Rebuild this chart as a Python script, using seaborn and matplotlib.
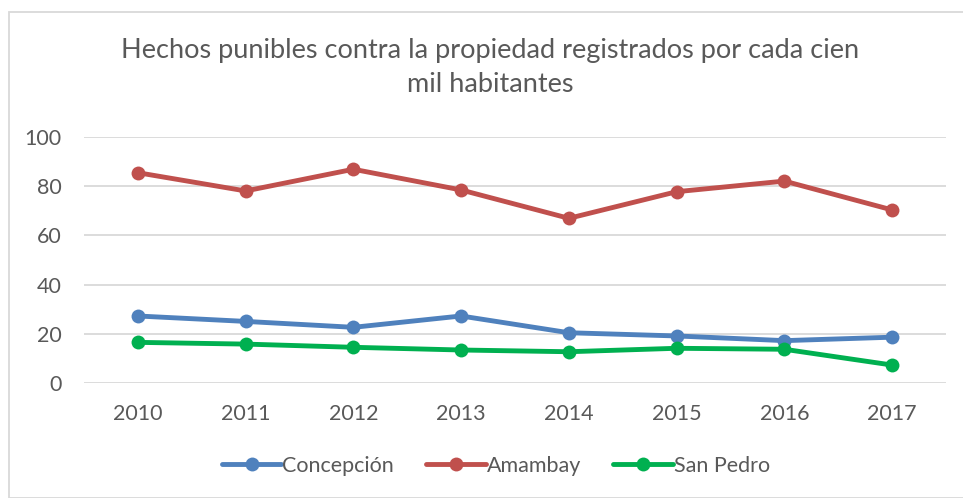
import matplotlib
matplotlib.use("Agg")
import matplotlib.pyplot as plt
import seaborn as sns
import pandas as pd
from matplotlib.patches import Rectangle

years = [2010, 2011, 2012, 2013, 2014, 2015, 2016, 2017]
concepcion = [27.3, 25.1, 22.7, 27.3, 20.5, 19.2, 17.3, 18.7]
amambay = [85.4, 78.0, 86.8, 78.4, 66.9, 77.7, 82.0, 70.3]
san_pedro = [16.6, 15.9, 14.6, 13.5, 12.8, 14.2, 13.8, 7.4]
series_names = ["Concepción", "Amambay", "San Pedro"]
colors = ["#4F81BD", "#C0504D", "#00B050"]
title = "Hechos punibles contra la propiedad registrados por cada cien\nmil habitantes"

df = pd.DataFrame({
    "year": years * 3,
    "value": concepcion + amambay + san_pedro,
    "serie": [series_names[0]] * 8 + [series_names[1]] * 8 + [series_names[2]] * 8,
})

sns.set_theme(style="white")
plt.rcParams["font.family"] = ["Lato", "DejaVu Sans"]

W, H = 963, 498
fig = plt.figure(figsize=(W / 100, H / 100), dpi=100)
ax = fig.add_axes([84 / W, 1 - 383.3 / H, (946 - 84) / W, (383.3 - 136.7) / H])

sns.lineplot(data=df, x="year", y="value", hue="serie", hue_order=series_names,
             palette=colors, marker="o", markersize=10, markeredgewidth=0,
             linewidth=3.5, ax=ax, legend=True, zorder=3)

ax.set_xlim(2009.5, 2017.5)
ax.set_ylim(0, 100)
ax.set_yticks([0, 20, 40, 60, 80, 100])
ax.set_xticks(years)
ax.set_xticklabels([str(y) for y in years])
ax.yaxis.grid(True, color="#D9D9D9", linewidth=1.3)
ax.xaxis.grid(False)
for s in ax.spines.values():
    s.set_visible(False)
ax.tick_params(axis="both", colors="#595959", labelsize=15.5, length=0)
ax.tick_params(axis="y", pad=16)
ax.tick_params(axis="x", pad=15)
ax.set_xlabel("")
ax.set_ylabel("")
for line in ax.lines:
    line.set_clip_on(False)

handles, labels = ax.get_legend_handles_labels()
ax.legend(handles, labels, loc="center", bbox_to_anchor=(496 / W, 1 - 466 / H),
          bbox_transform=fig.transFigure, ncol=3, frameon=False, fontsize=15.5,
          labelcolor="#595959", handlelength=2.75, handletextpad=0.05,
          columnspacing=1.5)

fig.text(490 / W, 1 - 67.5 / H, title, ha="center", va="center", fontsize=19.5,
         color="#595959", linespacing=1.42)

fig.patches.append(Rectangle((8.5 / W, 0), 2, 1 - 12.5 / H, transform=fig.transFigure,
                             fill=False, edgecolor="#D9D9D9", linewidth=1.3))

fig.savefig("out.png", dpi=100)
